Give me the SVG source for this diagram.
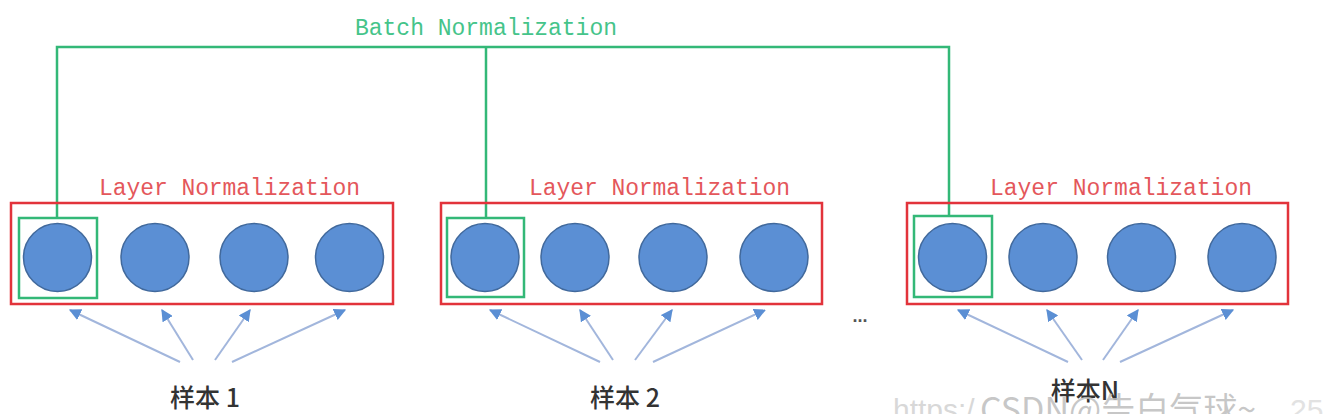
<svg xmlns="http://www.w3.org/2000/svg" width="1328" height="414" viewBox="0 0 1328 414">
<defs>
<marker id="ah" viewBox="0 0 10 10" refX="9" refY="5" markerWidth="6" markerHeight="6" orient="auto" markerUnits="strokeWidth">
<path d="M0,0 L10,5 L0,10 z" fill="#5b8fd4"/>
</marker>
<style>
.red{fill:none;stroke:#e2333b;stroke-width:2.5}
.grn{fill:none;stroke:#33b877;stroke-width:2.5}
.node{fill:#5b8fd4;stroke:#41699c;stroke-width:1.5}
.arr{stroke:#a2b6dc;stroke-width:2;fill:none;marker-end:url(#ah)}
.ln{font-family:"Liberation Mono","DejaVu Sans Mono",monospace;font-size:23px;fill:#e4575b}
.bn{font-family:"Liberation Mono","DejaVu Sans Mono",monospace;font-size:23px;fill:#45c48a}
.cn{font-family:"Noto Sans CJK SC","Noto Sans",sans-serif;font-size:25px;font-weight:500;fill:#333;text-anchor:middle}
</style>
</defs>
<rect width="1328" height="414" fill="#fff"/>
<g id="connectors">
<polyline class="grn" points="57,218 57,47 949,47 949,216"/>
<line class="grn" x1="486" y1="47" x2="486" y2="218"/>
<line class="arr" x1="180" y1="362" x2="70" y2="310"/>
<line class="arr" x1="193" y1="360" x2="162" y2="310"/>
<line class="arr" x1="215" y1="360" x2="250" y2="310"/>
<line class="arr" x1="232" y1="362" x2="345" y2="310"/>
<line class="arr" x1="600" y1="362" x2="490" y2="310"/>
<line class="arr" x1="613" y1="360" x2="580" y2="310"/>
<line class="arr" x1="635" y1="360" x2="672" y2="310"/>
<line class="arr" x1="653" y1="362" x2="765" y2="310"/>
<line class="arr" x1="1068" y1="362" x2="958" y2="310"/>
<line class="arr" x1="1082" y1="360" x2="1047" y2="310"/>
<line class="arr" x1="1103" y1="360" x2="1138" y2="310"/>
<line class="arr" x1="1120" y1="362" x2="1233" y2="310"/>
</g>
<text class="bn" x="355" y="35" textLength="262">Batch Normalization</text>
<g id="sample1">
<rect class="red" x="11" y="203" width="382" height="101"/>
<text class="ln" x="99" y="195" textLength="261">Layer Normalization</text>
<circle class="node" cx="57.5" cy="257.5" r="34"/>
<circle class="node" cx="155" cy="257.5" r="34"/>
<circle class="node" cx="254" cy="257.5" r="34"/>
<circle class="node" cx="349.5" cy="257.5" r="34"/>
<rect class="grn" x="19" y="218" width="78" height="80"/>
<text class="cn" x="205" y="407">样本 1</text>
</g>
<g id="sample2">
<rect class="red" x="441" y="203" width="381" height="101"/>
<text class="ln" x="529" y="195" textLength="261">Layer Normalization</text>
<circle class="node" cx="485" cy="257.5" r="34"/>
<circle class="node" cx="575" cy="257.5" r="34"/>
<circle class="node" cx="673" cy="257.5" r="34"/>
<circle class="node" cx="774" cy="257.5" r="34"/>
<rect class="grn" x="447" y="218" width="77" height="79"/>
<text class="cn" x="625" y="407">样本 2</text>
</g>
<text x="860" y="322" font-family="Liberation Sans,sans-serif" font-size="18" font-weight="bold" fill="#555" text-anchor="middle">...</text>
<g id="sampleN">
<rect class="red" x="907" y="203" width="381" height="101"/>
<text class="ln" x="990" y="195" textLength="262">Layer Normalization</text>
<circle class="node" cx="952.5" cy="257.5" r="34"/>
<circle class="node" cx="1043" cy="257.5" r="34"/>
<circle class="node" cx="1141.5" cy="257.5" r="34"/>
<circle class="node" cx="1242" cy="257.5" r="34"/>
<rect class="grn" x="914" y="216" width="78" height="81"/>
<text class="cn" x="1085" y="400" fill="#2c3e6e">样本N</text>
</g>
<text x="893" y="420" font-family="Liberation Sans,sans-serif" font-size="30" fill="#d8d8d8">https:/</text>
<text x="980" y="422" font-family="'Noto Sans CJK SC',sans-serif" font-size="34" fill="#bdbdbd" fill-opacity="0.85">CSDN@告白气球~</text>
<text x="1290" y="420" font-family="Liberation Sans,sans-serif" font-size="30" fill="#e2e2e2">25</text>
</svg>
